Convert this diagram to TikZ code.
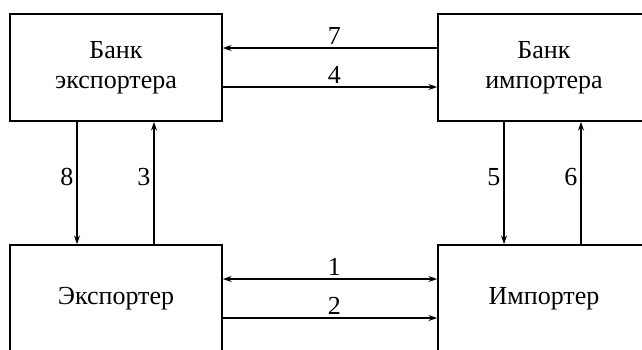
\documentclass[tikz,border=0pt]{standalone}
\usepackage{fontspec}
\setmainfont{Liberation Serif}
\usetikzlibrary{arrows.meta,positioning,calc}
\tikzset{
box/.style={draw=black,line width=.8pt,align=center,minimum width=106pt,minimum height=53.5pt,inner sep=2pt,font=\fontsize{13}{15}\selectfont},
arr/.style={-{Stealth[length=4.4pt,width=3pt]},line width=.75pt},
darr/.style={{Stealth[length=4.4pt,width=3pt]}-{Stealth[length=4.4pt,width=3pt]},line width=.75pt},
num/.style={font=\fontsize{13}{14}\selectfont,inner sep=1.5pt}}
\begin{document}
\begin{tikzpicture}[x=0.5pt,y=-0.5pt]
\useasboundingbox (0,0) rectangle (642,349);
\clip (0,0) rectangle (642,349);
\node[box] (bexp) at (116,67.5) {Банк\\экспортера};
\node[box] (bimp) at (544,67.5) {Банк\\импортера};
\node[box] (exp) at (116,298.5) {Экспортер};
\node[box] (imp) at (544,298.5) {Импортер};
% banks
\draw[arr] ([yshift=9.75pt]bimp.west)--node[num,above,pos=.48]{7}([yshift=9.75pt]bexp.east);
\draw[arr] ([yshift=-9.75pt]bexp.east)--node[num,above,pos=.52]{4}([yshift=-9.75pt]bimp.west);
% exporter - importer
\draw[darr] ([yshift=9.75pt]exp.east)--node[num,above,pos=.52]{1}([yshift=9.75pt]imp.west);
\draw[arr] ([yshift=-9.75pt]exp.east)--node[num,above,pos=.52]{2}([yshift=-9.75pt]imp.west);
% verticals
\draw[arr] ([xshift=-19.5pt]bexp.south)--node[num,left,pos=.45]{8}([xshift=-19.5pt]exp.north);
\draw[arr] ([xshift=19pt]exp.north)--node[num,left,pos=.55]{3}([xshift=19pt]bexp.south);
\draw[arr] ([xshift=-20pt]bimp.south)--node[num,left,pos=.45]{5}([xshift=-20pt]imp.north);
\draw[arr] ([xshift=18.5pt]imp.north)--node[num,left,pos=.55]{6}([xshift=18.5pt]bimp.south);
\end{tikzpicture}
\end{document}
